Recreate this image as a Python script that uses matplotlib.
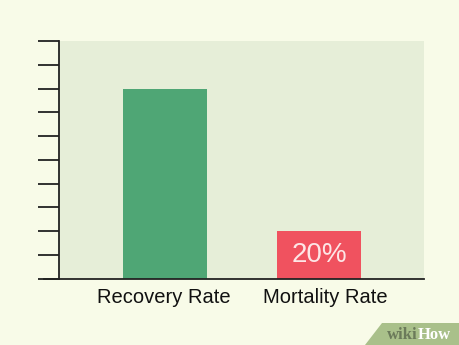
import matplotlib
matplotlib.use("Agg")
import matplotlib.pyplot as plt
from matplotlib.patches import Polygon

categories = ["Recovery Rate", "Mortality Rate"]
rates = [80, 20]
bar_colors = ["#4fa675", "#f0525f"]
bar_labels = ["", "20%"]
y_ticks = list(range(0, 101, 10))

plt.rcParams["font.family"] = ["Liberation Sans", "DejaVu Sans"]

fig = plt.figure(figsize=(4.6, 3.45), dpi=100, facecolor="#f8fbe8")
ax = fig.add_axes([0.1283, 0.1922, 0.7935, 0.689])
ax.set_facecolor("#e6eed8")

x = range(len(categories))
bars = ax.bar(x, rates, width=0.545, color=bar_colors, zorder=2)
for b, lab in zip(bars, bar_labels):
    if lab:
        ax.text(b.get_x() + b.get_width() / 2, b.get_height() / 2, lab,
                ha="center", va="center", color="#fde6e6", fontsize=20)

ax.set_xlim(-0.688, 1.682)
ax.set_ylim(0, 100)
ax.set_yticks(y_ticks)
ax.set_yticklabels([])
ax.set_xticks([0, 1])
ax.set_xticklabels([])
ax.tick_params(axis="y", length=15, width=1.3, color="#222222")
ax.tick_params(axis="x", length=0)
# category labels sit a little off-centre in the source image
for xi, name in zip([-0.01, 1.04], categories):
    ax.text(xi, -8, name, ha="center", va="center", fontsize=14.5,
            color="#111111")

for s in ["top", "right"]:
    ax.spines[s].set_visible(False)
for s in ["left", "bottom"]:
    ax.spines[s].set_linewidth(1.3)
    ax.spines[s].set_color("#222222")

# extend baseline under the ticks
ax.plot([-0.688 - 15 / 154, -0.688], [0, 0], color="#222222", lw=1.3,
        clip_on=False, zorder=3)

# wikiHow badge in the corner
badge = Polygon([[382 / 460, 22 / 345], [1.0, 22 / 345], [1.0, 0.0], [365 / 460, 0.0]],
                closed=True, transform=fig.transFigure, facecolor="#a9c08a",
                edgecolor="none")
fig.patches.append(badge)
fig.text(418 / 460, 10 / 345, "wiki", ha="right", va="center", fontsize=12,
         fontweight="bold", family="Liberation Serif", color="#6b7a5a")
fig.text(418 / 460, 10 / 345, "How", ha="left", va="center", fontsize=12,
         fontweight="bold", family="Liberation Serif", color="white")

fig.savefig("out.png", dpi=100, facecolor=fig.get_facecolor())
